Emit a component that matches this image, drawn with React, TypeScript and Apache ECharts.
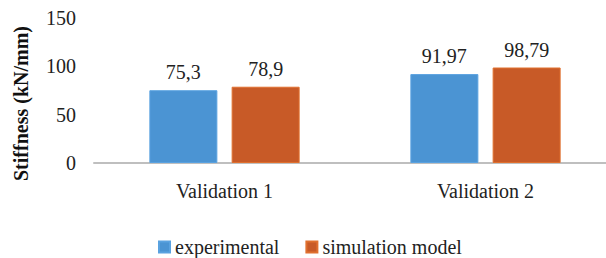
import React, { useEffect, useRef } from "react";
import * as echarts from "echarts";

const categories = ["Validation 1", "Validation 2"];
const experimental = [75.3, 91.97];
const simulation = [78.9, 98.79];
const seriesNames = ["experimental", "simulation model"];
const yTicks = { min: 0, max: 150, interval: 50 };

const FONT = "Liberation Serif";

export default function App() {
  const ref = useRef<HTMLDivElement>(null);
  useEffect(() => {
    if (!ref.current) return;
    const chart = echarts.init(ref.current, null, { renderer: "svg" });
    const labelFmt = (p: any) => String(p.value).replace(".", ",");
    chart.setOption({
      animation: false,
      backgroundColor: "#ffffff",
      textStyle: { fontFamily: FONT },
      grid: { left: 94, right: 0, top: 18, bottom: 95, containLabel: false },
      legend: {
        data: seriesNames,
        left: 158,
        top: 237,
        padding: 0,
        icon: "rect",
        itemWidth: 11,
        itemHeight: 11,
        itemGap: 26,
        textStyle: { fontFamily: FONT, fontSize: 20, color: "#222", lineHeight: 20 },
      },
      xAxis: {
        type: "category",
        data: categories,
        axisLine: { lineStyle: { color: "#bfbfbf", width: 2 } },
        axisTick: { show: false },
        axisLabel: { fontFamily: FONT, fontSize: 20, color: "#222", margin: 18 },
      },
      yAxis: {
        type: "value",
        min: yTicks.min,
        max: yTicks.max,
        interval: yTicks.interval,
        splitLine: { show: false },
        axisLine: { show: false },
        axisTick: { show: false },
        axisLabel: { fontFamily: FONT, fontSize: 20, color: "#222", margin: 18 },
        name: "Stiffness (kN/mm)",
        nameLocation: "middle",
        nameGap: 63,
        nameTextStyle: {
          fontFamily: FONT,
          fontSize: 20,
          fontWeight: "bold",
          color: "#111",
          padding: [0, 26, 0, 0],
        },
      },
      series: [
        {
          name: seriesNames[0],
          type: "bar",
          data: experimental,
          barWidth: 68,
          barGap: "21%",
          itemStyle: { color: "#4b94d3", borderColor: "#5aa2e0", borderWidth: 1 },
          label: {
            show: true,
            position: "top",
            distance: 8,
            formatter: labelFmt,
            fontFamily: FONT,
            fontSize: 20,
            color: "#222",
          },
        },
        {
          name: seriesNames[1],
          type: "bar",
          data: simulation,
          barWidth: 68,
          barGap: "21%",
          itemStyle: { color: "#c85a27", borderColor: "#e0702f", borderWidth: 1 },
          label: {
            show: true,
            position: "top",
            distance: 8,
            formatter: labelFmt,
            fontFamily: FONT,
            fontSize: 20,
            color: "#222",
          },
        },
      ],
    });
    return () => chart.dispose();
  }, []);
  return (
    <div
      ref={ref}
      style={{ position: "fixed", left: 0, top: 0, width: 616, height: 258 }}
    />
  );
}
